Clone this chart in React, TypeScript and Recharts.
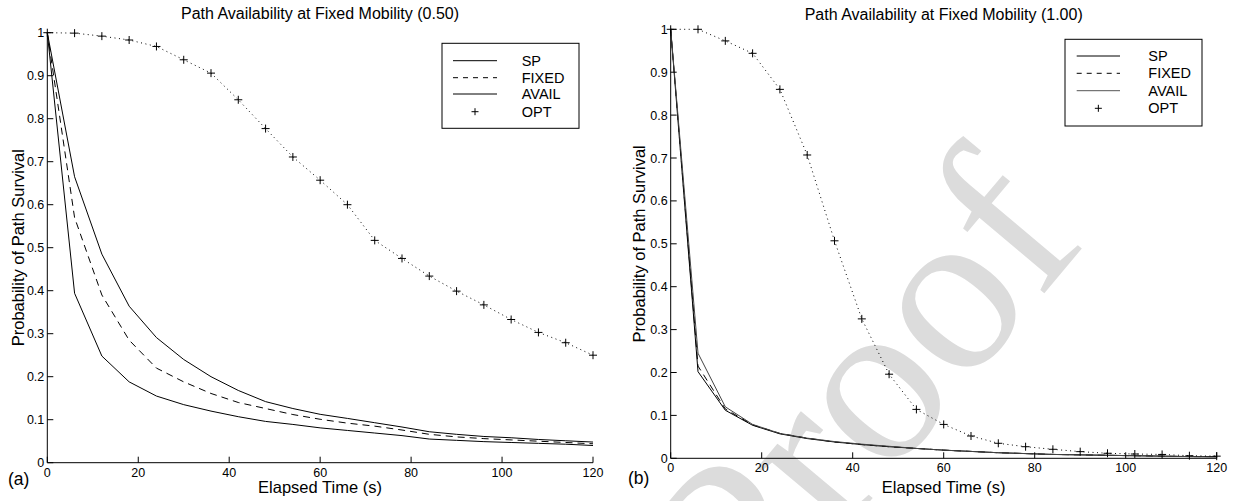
import React from 'react';
import { LineChart, Line, XAxis, YAxis } from 'recharts';

const TIME = [0, 6, 12, 18, 24, 30, 36, 42, 48, 54, 60, 66, 72, 78, 84, 90, 96, 102, 108, 114, 120];
const X_TICKS = [0, 20, 40, 60, 80, 100, 120];
const Y_TICKS = [0, 0.1, 0.2, 0.3, 0.4, 0.5, 0.6, 0.7, 0.8, 0.9, 1];
const SERIES_NAMES = ['SP', 'FIXED', 'AVAIL', 'OPT'];

// Panel (a): mobility 0.50
const SP_A = [1, 0.394, 0.248, 0.188, 0.155, 0.135, 0.12, 0.107, 0.096, 0.089, 0.081, 0.075, 0.069, 0.063, 0.055, 0.052, 0.049, 0.047, 0.045, 0.043, 0.04];
const FIXED_A = [1, 0.57, 0.39, 0.285, 0.22, 0.188, 0.161, 0.14, 0.126, 0.112, 0.101, 0.092, 0.085, 0.076, 0.066, 0.06, 0.056, 0.053, 0.05, 0.047, 0.044];
const AVAIL_A = [1, 0.665, 0.485, 0.364, 0.291, 0.24, 0.2, 0.168, 0.142, 0.126, 0.1125, 0.103, 0.093, 0.083, 0.072, 0.066, 0.061, 0.058, 0.054, 0.051, 0.048];
const OPT_A = [1, 0.999, 0.992, 0.983, 0.968, 0.937, 0.906, 0.844, 0.777, 0.711, 0.657, 0.6, 0.517, 0.475, 0.434, 0.399, 0.367, 0.333, 0.303, 0.279, 0.25];

// Panel (b): mobility 1.00
const SP_B = [1, 0.202, 0.112, 0.077, 0.057, 0.046, 0.038, 0.032, 0.027, 0.023, 0.019, 0.016, 0.013, 0.011, 0.009, 0.008, 0.007, 0.006, 0.005, 0.004, 0.004];
const FIXED_B = [1, 0.215, 0.115, 0.078, 0.058, 0.047, 0.038, 0.032, 0.027, 0.023, 0.019, 0.016, 0.013, 0.011, 0.009, 0.008, 0.007, 0.006, 0.005, 0.004, 0.004];
const AVAIL_B = [1, 0.245, 0.12, 0.079, 0.058, 0.047, 0.039, 0.033, 0.028, 0.023, 0.019, 0.016, 0.013, 0.011, 0.009, 0.008, 0.007, 0.006, 0.005, 0.004, 0.003];
const OPT_B = [1, 1, 0.973, 0.944, 0.86, 0.707, 0.507, 0.325, 0.196, 0.114, 0.079, 0.052, 0.035, 0.027, 0.021, 0.0155, 0.0117, 0.01, 0.009, 0.006, 0.005];

const FONT = '"Liberation Sans", Arial, Helvetica, sans-serif';

const build = (sp: number[], fx: number[], av: number[], op: number[]) =>
  TIME.map((t, i) => ({ t, SP: sp[i], FIXED: fx[i], AVAIL: av[i], OPT: op[i] }));

const dataA = build(SP_A, FIXED_A, AVAIL_A, OPT_A);
const dataB = build(SP_B, FIXED_B, AVAIL_B, OPT_B);

const XTick = (props: any) => {
  const { x, y, payload } = props;
  return (
    <g>
      <line x1={x} x2={x} y1={y} y2={y - 6} stroke="#000" strokeWidth={1} />
      <text x={x} y={y + 14} textAnchor="middle" fontSize={12.5} fontFamily={FONT} fill="#000">
        {String(payload.value)}
      </text>
    </g>
  );
};

const YTick = (props: any) => {
  const { x, y, payload } = props;
  return (
    <g>
      <line x1={x} x2={x + 6} y1={y} y2={y} stroke="#000" strokeWidth={1} />
      <text x={x - 3} y={y + 4.5} textAnchor="end" fontSize={12.5} fontFamily={FONT} fill="#000">
        {String(payload.value)}
      </text>
    </g>
  );
};

const plusPath = (cx: number, cy: number, r: number) =>
  `M${cx - r},${cy}H${cx + r}M${cx},${cy - r}V${cy + r}`;

const renderPlus = (p: any) => {
  if (p.cx == null || p.cy == null) return <g key={`d-${p.index}`} />;
  return <path key={`d-${p.index}`} d={plusPath(p.cx, p.cy, 4)} stroke="#000" strokeWidth={1} fill="none" />;
};

type PanelProps = {
  data: any[];
  left: number;
  yAxisWidth: number;
  rightMargin: number;
  top: number;
  xAxisHeight: number;
  availColor: string;
};

const Panel = ({ data, left, yAxisWidth, rightMargin, top, xAxisHeight, availColor }: PanelProps) => (
  <div style={{ position: 'absolute', left, top: 0 }}>
    <LineChart width={617} height={501} data={data} margin={{ top, right: rightMargin, bottom: 0, left: 0 }}>
      <XAxis
        dataKey="t"
        type="number"
        domain={[0, 120]}
        ticks={X_TICKS}
        interval={0}
        height={xAxisHeight}
        tickSize={0}
        tickMargin={0}
        tickLine={false}
        axisLine={{ stroke: '#000', strokeWidth: 1 }}
        tick={<XTick />}
      />
      <YAxis
        type="number"
        domain={[0, 1]}
        ticks={Y_TICKS}
        interval={0}
        width={yAxisWidth}
        tickSize={0}
        tickMargin={0}
        tickLine={false}
        axisLine={{ stroke: '#000', strokeWidth: 1 }}
        tick={<YTick />}
      />
      <Line type="linear" dataKey="SP" stroke="#000" strokeWidth={1} dot={false} isAnimationActive={false} />
      <Line type="linear" dataKey="FIXED" stroke="#000" strokeWidth={1} strokeDasharray="7 5" dot={false} isAnimationActive={false} />
      <Line type="linear" dataKey="AVAIL" stroke={availColor} strokeWidth={1} dot={false} isAnimationActive={false} />
      <Line type="linear" dataKey="OPT" stroke="#000" strokeWidth={1} strokeDasharray="1 3.5" dot={renderPlus} isAnimationActive={false} />
    </LineChart>
  </div>
);

type LegendProps = { x: number; y: number; w: number; h: number; lineX1: number; lineX2: number; textX: number; rows: number[]; availColor: string };

const LegendBox = ({ x, y, w, h, lineX1, lineX2, textX, rows, availColor }: LegendProps) => {
  const mid = (lineX1 + lineX2) / 2;
  return (
    <g>
      <rect x={x} y={y} width={w} height={h} fill="#fff" stroke="#000" strokeWidth={1} />
      {SERIES_NAMES.map((name, i) => {
        const ry = rows[i];
        let mark: React.ReactNode = null;
        if (name === 'SP') mark = <line x1={lineX1} x2={lineX2} y1={ry} y2={ry} stroke="#000" />;
        if (name === 'FIXED') mark = <line x1={lineX1} x2={lineX2} y1={ry} y2={ry} stroke="#000" strokeDasharray="5 5" />;
        if (name === 'AVAIL') mark = <line x1={lineX1} x2={lineX2} y1={ry} y2={ry} stroke={availColor} />;
        if (name === 'OPT') mark = <path d={plusPath(mid, ry, 3.5)} stroke="#000" fill="none" />;
        return (
          <g key={name}>
            {mark}
            <text x={textX} y={ry + 5} fontSize={14.5} fontFamily={FONT} fill="#000">{name}</text>
          </g>
        );
      })}
    </g>
  );
};

export default function App() {
  return (
    <div style={{ position: 'absolute', left: 0, top: 0, width: 1234, height: 501, background: '#fff', overflow: 'hidden' }}>
      <svg width={1234} height={501} style={{ position: 'absolute', left: 0, top: 0 }}>
        <text
          x={860}
          y={390}
          textAnchor="middle"
          dominantBaseline="central"
          fontSize={235}
          fontFamily='"Liberation Serif", "DejaVu Serif", serif'
          fill="#dcdcdc"
          transform="rotate(-50 860 390)"
        >
          Proof
        </text>
      </svg>
      <Panel data={dataA} left={0} yAxisWidth={47.3} rightMargin={24} top={32.7} xAxisHeight={38.3} availColor="#000" />
      <Panel data={dataB} left={617} yAxisWidth={53.7} rightMargin={17.3} top={29.3} xAxisHeight={42.7} availColor="#444" />
      <svg width={1234} height={501} style={{ position: 'absolute', left: 0, top: 0, pointerEvents: 'none' }}>
        <text x={320} y={19} textAnchor="middle" fontSize={16} fontFamily={FONT}>Path Availability at Fixed Mobility (0.50)</text>
        <text x={943.7} y={20} textAnchor="middle" fontSize={16} fontFamily={FONT}>Path Availability at Fixed Mobility (1.00)</text>
        <text x={18} y={247.7} textAnchor="middle" dominantBaseline="central" fontSize={16.5} fontFamily={FONT} transform="rotate(-90 18 247.7)">Probability of Path Survival</text>
        <text x={639} y={243.8} textAnchor="middle" dominantBaseline="central" fontSize={16.5} fontFamily={FONT} transform="rotate(-90 639 243.8)">Probability of Path Survival</text>
        <text x={320} y={493} textAnchor="middle" fontSize={16.5} fontFamily={FONT}>Elapsed Time (s)</text>
        <text x={943.7} y={493} textAnchor="middle" fontSize={16.5} fontFamily={FONT}>Elapsed Time (s)</text>
        <text x={8} y={485} fontSize={17.5} fontFamily={FONT}>(a)</text>
        <text x={628} y={484} fontSize={17.5} fontFamily={FONT}>(b)</text>
        <LegendBox x={442} y={43.3} w={137} h={85} lineX1={453} lineX2={497} textX={521.7} rows={[60.7, 77.7, 94, 111.7]} availColor="#000" />
        <LegendBox x={1065} y={39.3} w={137} h={86.7} lineX1={1076.7} lineX2={1120} textX={1148.3} rows={[56, 73.3, 90.7, 108.3]} availColor="#555" />
      </svg>
    </div>
  );
}
